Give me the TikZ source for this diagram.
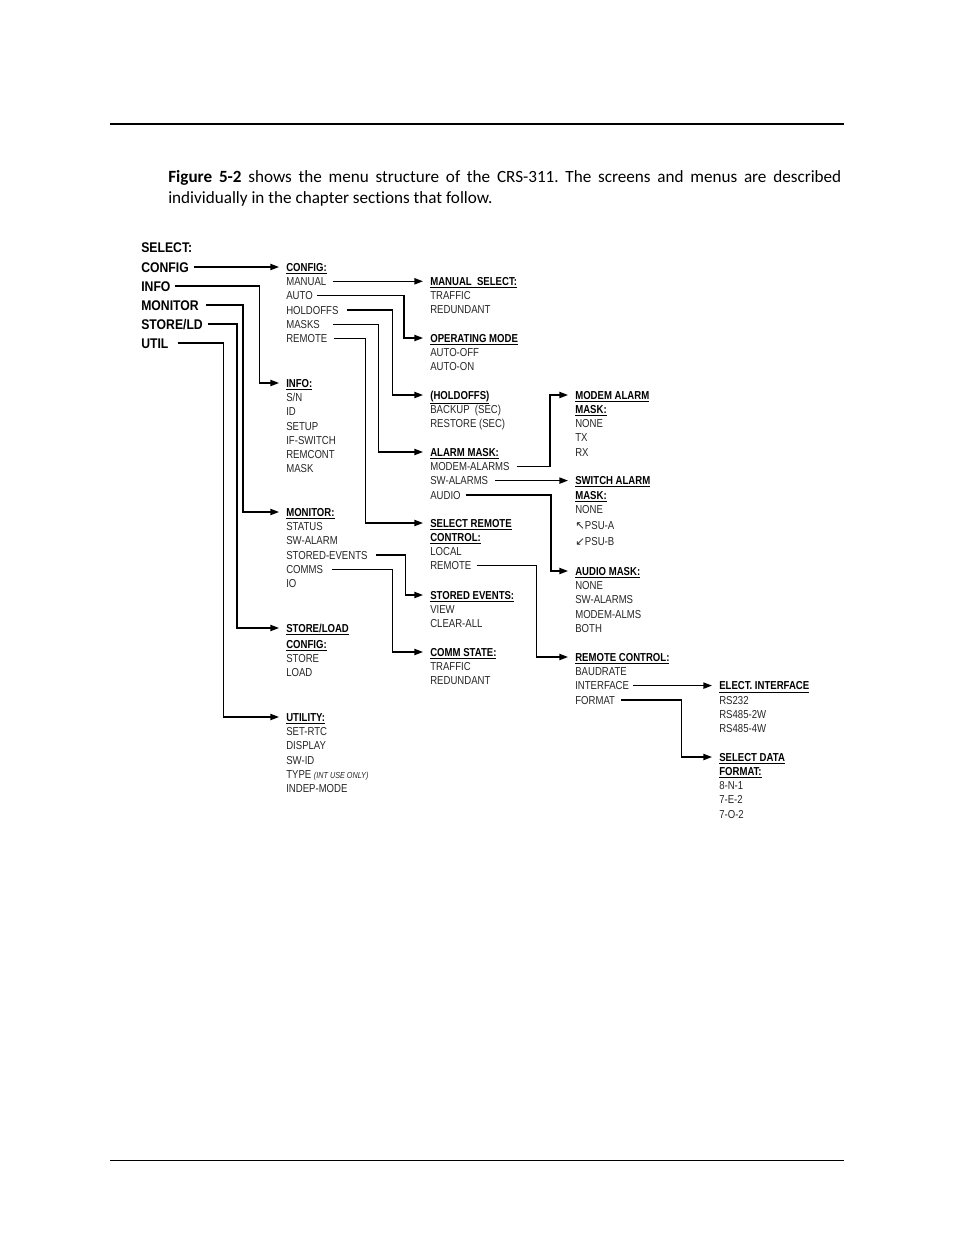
\documentclass[tikz,border=0pt]{standalone}
\usepackage{fontspec}
\setmainfont{Liberation Sans}
\newfontfamily\bodyfont[Ligatures=NoCommon]{Carlito}
\newfontfamily\narrowfont[FakeStretch=0.83]{Liberation Sans}
\newfontfamily\selfont[FakeStretch=0.87]{Liberation Sans}
\newfontfamily\arrowfont{DejaVu Sans}
\usetikzlibrary{arrows.meta}
\hyphenpenalty=10000
\tolerance=9999
\frenchspacing
\begin{document}
\begin{tikzpicture}[x=0.6415pt,y=-0.6415pt,
  sel/.style={anchor=west,inner sep=0pt,font=\selfont\fontsize{9pt}{10pt}\selectfont\bfseries,text height=6.45pt,text depth=0pt},
  head/.style={anchor=west,inner sep=0pt,font=\narrowfont\fontsize{7.4pt}{8pt}\selectfont\bfseries,text height=5.3pt,text depth=0pt},
  item/.style={anchor=west,inner sep=0pt,font=\narrowfont\fontsize{7.4pt}{8pt}\selectfont,text=black!85,text height=5.3pt,text depth=0pt},
  link/.style={line width=0.8pt,-{Triangle[length=5.5pt,width=4pt]},shorten >=4.5pt}]
  \useasboundingbox (0,0) rectangle (954,1235);
  \draw[line width=1.3pt] (110,124) -- (844,124);
  \draw[line width=0.6pt] (110,1160) -- (844,1160);
  \node[anchor=base west,inner sep=0pt,text width=431.7pt,align=justify,font=\bodyfont\fontsize{11pt}{13.5pt}\selectfont] (intro) at (168,182)
    {\textbf{Figure 5-2} shows the menu structure of the CRS-311. The screens and menus are described individually in the chapter sections that follow.};

  % select column
  \node[sel] (sselect) at (141,247) {SELECT:};
  \node[sel] (sconfig) at (141,267) {CONFIG};
  \node[sel] (sinfo) at (141,286) {INFO};
  \node[sel] (smon) at (141,305) {MONITOR};
  \node[sel] (sstore) at (141,324) {STORE/LD};
  \node[sel] (sutil) at (141,343) {UTIL};

  % second column
  \node[head] (hcfg) at (286,267) {\underline{CONFIG:}};
  \foreach \t [count=\i] in {MANUAL,AUTO,HOLDOFFS,MASKS,REMOTE}
    \node[item] (cfg\i) at (286,267+14.3*\i) {\t};
  \node[head] (hinfo) at (286,383) {\underline{INFO:}};
  \foreach \t [count=\i] in {S/N,ID,SETUP,IF-SWITCH,REMCONT,MASK}
    \node[item] (info\i) at (286,383+14.3*\i) {\t};
  \node[head] (hmon) at (286,512) {\underline{MONITOR:}};
  \foreach \t [count=\i] in {STATUS,SW-ALARM,STORED-EVENTS,COMMS,IO}
    \node[item] (mon\i) at (286,512+14.3*\i) {\t};
  \node[head] (hstl) at (286,628) {\underline{STORE/LOAD}};
  \node[head] (hstl2) at (286,644) {\underline{CONFIG:}};
  \foreach \t [count=\i] in {STORE,LOAD}
    \node[item] (stl\i) at (286,644+14.3*\i) {\t};
  \node[head] (hutil) at (286,717) {\underline{UTILITY:}};
  \foreach \t [count=\i] in {SET-RTC,DISPLAY,SW-ID,TYPE {\fontsize{5.6pt}{6pt}\selectfont\itshape(INT USE ONLY)},INDEP-MODE}
    \node[item] (util\i) at (286,717+14.3*\i) {\t};

  % third column
  \node[head] (hman) at (430,281) {\underline{MANUAL\ \ SELECT:}};
  \foreach \t [count=\i] in {TRAFFIC,REDUNDANT}
    \node[item] (man\i) at (430,281+14.3*\i) {\t};
  \node[head] (hop) at (430,338) {\underline{OPERATING MODE}};
  \foreach \t [count=\i] in {AUTO-OFF,AUTO-ON}
    \node[item] (op\i) at (430,338+14.3*\i) {\t};
  \node[head] (hhold) at (430,395) {\underline{(HOLDOFFS)}};
  \foreach \t [count=\i] in {BACKUP\ \ (SEC),RESTORE (SEC)}
    \node[item] (hold\i) at (430,395+14.3*\i) {\t};
  \node[head] (halarm) at (430,452) {\underline{ALARM MASK:}};
  \foreach \t [count=\i] in {MODEM-ALARMS,SW-ALARMS,AUDIO}
    \node[item] (alarm\i) at (430,452+14.3*\i) {\t};
  \node[head] (hsrc) at (430,523) {\underline{SELECT REMOTE}};
  \node[head] (hsrc2) at (430,537) {\underline{CONTROL:}};
  \foreach \t [count=\i] in {LOCAL,REMOTE}
    \node[item] (src\i) at (430,537+14.3*\i) {\t};
  \node[head] (hsev) at (430,595) {\underline{STORED EVENTS:}};
  \foreach \t [count=\i] in {VIEW,CLEAR-ALL}
    \node[item] (sev\i) at (430,595+14.3*\i) {\t};
  \node[head] (hcomm) at (430,652) {\underline{COMM STATE:}};
  \foreach \t [count=\i] in {TRAFFIC,REDUNDANT}
    \node[item] (comm\i) at (430,652+14.3*\i) {\t};

  % fourth column
  \node[head] (hmod) at (575,395) {\underline{MODEM ALARM}};
  \node[head] (hmod2) at (575,409) {\underline{MASK:}};
  \foreach \t [count=\i] in {NONE,TX,RX}
    \node[item] (mod\i) at (575,409+14.3*\i) {\t};
  \node[head] (hsw) at (575,480) {\underline{SWITCH ALARM}};
  \node[head] (hsw2) at (575,495) {\underline{MASK:}};
  \node[item] (sw1) at (575,509) {NONE};
  \node[item] (sw2) at (575,525) {{\arrowfont ↖}PSU-A};
  \node[item] (sw3) at (575,541) {{\arrowfont ↙}PSU-B};
  \node[head] (haud) at (575,571) {\underline{AUDIO MASK:}};
  \foreach \t [count=\i] in {NONE,SW-ALARMS,MODEM-ALMS,BOTH}
    \node[item] (aud\i) at (575,571+14.3*\i) {\t};
  \node[head] (hrc) at (575,657) {\underline{REMOTE CONTROL:}};
  \foreach \t [count=\i] in {BAUDRATE,INTERFACE,FORMAT}
    \node[item] (rc\i) at (575,657+14.3*\i) {\t};

  % fifth column
  \node[head] (hel) at (719,685.6) {\underline{ELECT. INTERFACE}};
  \foreach \t [count=\i] in {RS232,RS485-2W,RS485-4W}
    \node[item] (el\i) at (719,685.6+14.3*\i) {\t};
  \node[head] (hsd) at (719,757) {\underline{SELECT DATA}};
  \node[head] (hsd2) at (719,771) {\underline{FORMAT:}};
  \foreach \t [count=\i] in {8-N-1,7-E-2,7-O-2}
    \node[item] (sd\i) at (719,771+14.3*\i) {\t};

  % connectors
  \draw[link] (sconfig.east) ++(5,0) -- (sconfig.east -| hcfg.west);
  \draw[link] (sinfo.east) ++(4,0) -- ++(85,0) |- (hinfo.west);
  \draw[link] (smon.east) ++(7,0) -- ++(37,0) |- (hmon.west);
  \draw[link] (sstore.east) ++(5,0) -- ++(29,0) |- (hstl.west);
  \draw[link] (sutil.east) ++(9,0) -- ++(46,0) |- (hutil.west);

  \draw[link] (cfg1.east) ++(6,0) -- (cfg1.east -| hman.west);
  \draw[link] (cfg2.east) ++(4,0) -- ++(87,0) |- (hop.west);
  \draw[link] (cfg3.east) ++(8,0) -- ++(46,0) |- (hhold.west);
  \draw[link] (cfg4.east) ++(13,0) -- ++(45,0) |- (halarm.west);
  \draw[link] (cfg5.east) ++(6,0) -- ++(32,0) |- (hsrc.west);
  \draw[link] (mon3.east) ++(8,0) -- ++(30,0) |- (hsev.west);
  \draw[link] (mon4.east) ++(9,0) -- ++(60,0) |- (hcomm.west);

  \draw[link] (alarm1.east) ++(7,0) -- ++(33,0) |- (hmod.west);
  \draw[link] (alarm2.east) ++(7,0) -- (alarm2.east -| hsw.west);
  \draw[link] (alarm3.east) ++(5,0) -- ++(85,0) |- (haud.west);
  \draw[link] (src2.east) ++(5,0) -- ++(60,0) |- (hrc.west);

  \draw[link] (rc2.east) ++(4,0) -- (rc2.east -| hel.west);
  \draw[link] (rc3.east) ++(6,0) -- ++(60,0) |- (hsd.west);
\end{tikzpicture}
\end{document}
